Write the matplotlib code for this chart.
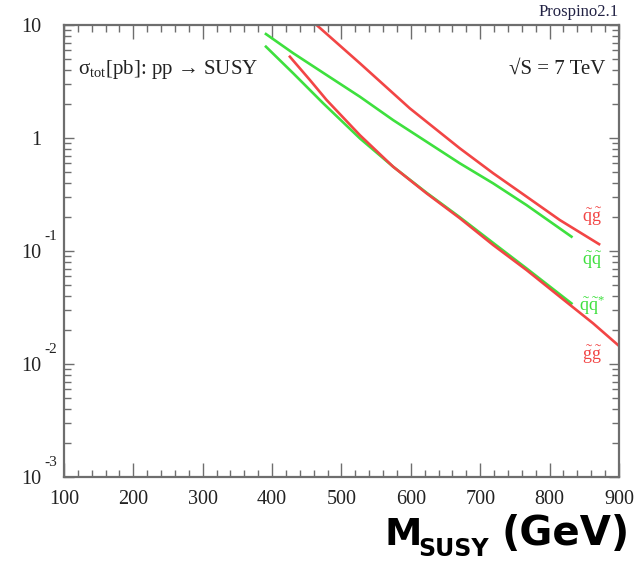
"""
Prospino2.1 SUSY production cross sections at sqrt(S) = 7 TeV.
Recreated as a static figure -> out.png
"""

import numpy as np
import matplotlib
matplotlib.use("Agg")
import matplotlib.pyplot as plt
from matplotlib.ticker import FixedLocator, FuncFormatter, NullFormatter

plt.rcParams["font.family"] = ["Liberation Serif", "DejaVu Serif"]
plt.rcParams["mathtext.fontset"] = "custom"
plt.rcParams["mathtext.rm"] = "Liberation Serif"
plt.rcParams["mathtext.it"] = "Liberation Serif:italic"
plt.rcParams["mathtext.bf"] = "Liberation Serif:bold"

# ---------------------------------------------------------------------------
# Data
# ---------------------------------------------------------------------------

m_qg = [464.1, 526.6, 598.5, 670.6, 718.6, 766.7, 814.7, 871.3]
xs_qg = [10.0, 4.58, 1.83, 0.81, 0.488, 0.303, 0.188, 0.115]

m_qq = [391.1, 430.4, 478.5, 526.5, 574.5, 622.6, 670.6, 718.6, 766.7, 831.5]
xs_qq = [8.32, 5.63, 3.61, 2.32, 1.44, 0.927, 0.597, 0.397, 0.255, 0.134]

m_qqbar = [391.1, 430.4, 473.6, 526.5, 574.5, 622.6, 670.6, 718.6, 766.7,
           831.5]
xs_qqbar = [6.43, 3.74, 2.03, 0.993, 0.557, 0.328, 0.199, 0.118, 0.0702,
            0.0344]

m_gg = [425.6, 454.5, 478.5, 526.5, 574.5, 622.6, 670.6, 718.6, 766.7,
        814.7, 862.7, 898.7]
xs_gg = [5.24, 3.26, 2.17, 1.06, 0.557, 0.324, 0.195, 0.113, 0.0679,
         0.0394, 0.0229, 0.0147]

x_ticks = [100, 200, 300, 400, 500, 600, 700, 800, 900]
y_ticks = [1e-3, 1e-2, 1e-1, 1, 10]

# process labels at the right end of the curves
label_x = 861
labels = [r"$\tilde{\mathrm{q}}\tilde{\mathrm{g}}$",
          r"$\tilde{\mathrm{q}}\tilde{\mathrm{q}}$",
          r"$\tilde{\mathrm{q}}\tilde{\mathrm{q}}^{*}$",
          r"$\tilde{\mathrm{g}}\tilde{\mathrm{g}}$"]
label_y = [0.2, 0.083, 0.033, 0.012]

RED = "#f24545"
GREEN = "#3ee03e"
AXC = "#6e6e6e"

# ---------------------------------------------------------------------------
# Figure
# ---------------------------------------------------------------------------

fig = plt.figure(figsize=(6.38, 5.62), dpi=100)
ax = fig.add_axes([0.1003, 0.1512, 0.8699, 0.8043])

ax.plot(m_qg, xs_qg, color=RED, lw=1.9)
ax.plot(m_qq, xs_qq, color=GREEN, lw=1.9)
ax.plot(m_qqbar, xs_qqbar, color=GREEN, lw=1.9)
ax.plot(m_gg, xs_gg, color=RED, lw=1.9)

ax.set_yscale("log")
ax.set_xlim(100, 900)
ax.set_ylim(1e-3, 10)

# x ticks: majors every 100, minors every 20, ticks inside on all sides
ax.xaxis.set_major_locator(FixedLocator(x_ticks))
ax.xaxis.set_minor_locator(FixedLocator(np.arange(100, 901, 20)))
ax.yaxis.set_major_locator(FixedLocator(y_ticks))
ax.yaxis.set_minor_locator(FixedLocator(
    [k * 10.0 ** e for e in range(-3, 1) for k in range(2, 10)]))
ax.yaxis.set_minor_formatter(NullFormatter())

# ROOT-style labels: mantissa as the tick label, exponent drawn apart
ax.yaxis.set_major_formatter(
    FuncFormatter(lambda v, pos: "%d" % round(v) if v >= 1 else "10"))
for v in y_ticks:
    if v < 1:
        ax.annotate("%d" % round(np.log10(v)), xy=(0, v),
                    xycoords=("axes fraction", "data"),
                    xytext=(-14, 8), textcoords="offset points",
                    fontsize=11, color="#222222", ha="left", va="baseline")

ax.tick_params(axis="both", which="both", direction="in", colors=AXC,
               top=True, right=True, labelcolor="#222222")
ax.tick_params(axis="x", which="major", length=10, width=1.0, pad=9,
               labelsize=14.5)
ax.tick_params(axis="x", which="minor", length=5, width=1.0)
ax.tick_params(axis="y", which="major", length=7, width=1.0, pad=16,
               labelsize=14.5)
ax.tick_params(axis="y", which="minor", length=5, width=1.0)

for sp in ax.spines.values():
    sp.set_color(AXC)
    sp.set_linewidth(1.6)

# annotations inside the frame
ax.text(0.025, 0.8917,
        r"$\mathrm{\sigma}_{\mathrm{tot}}$[pb]: pp " + "\u2192 SUSY",
        transform=ax.transAxes, fontsize=15, color="#222222",
        va="baseline", ha="left")
ax.text(0.975, 0.8917, "\u221aS = 7 TeV", transform=ax.transAxes,
        fontsize=15, color="#222222", va="baseline", ha="right")
ax.text(1.0, 1.01, "Prospino2.1", transform=ax.transAxes, fontsize=12,
        color="#222244", va="bottom", ha="right")

for txt, yv, c in zip(labels, label_y, [RED, GREEN, GREEN, RED]):
    ax.text(label_x, yv, txt, color=c, fontsize=13, ha="center",
            va="center")

# x axis title, bold sans with subscript
fig.text(385 / 638, 17 / 562, "M", fontsize=27, fontweight="bold",
         family="DejaVu Sans", ha="left", va="baseline")
fig.text(418 / 638, 6 / 562, "SUSY", fontsize=17, fontweight="bold",
         family="DejaVu Sans", ha="left", va="baseline")
fig.text(630 / 638, 17 / 562, "(GeV)", fontsize=29, fontweight="bold",
         family="DejaVu Sans", ha="right", va="baseline")

fig.savefig("out.png", dpi=100)
print("[plot] out.png")
